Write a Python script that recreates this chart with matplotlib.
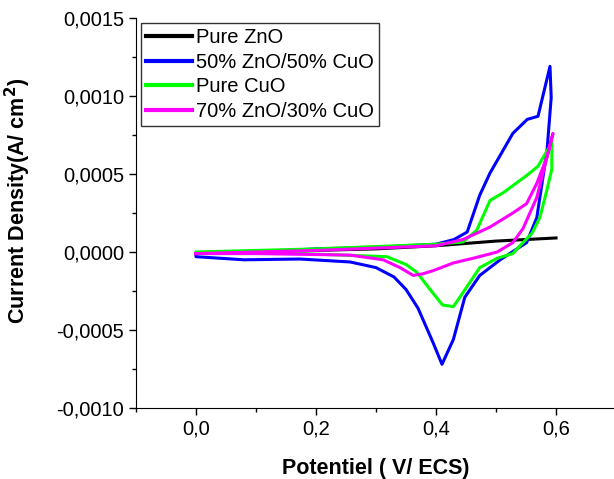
import numpy as np
import matplotlib.pyplot as plt
from matplotlib.ticker import MultipleLocator, FuncFormatter

plt.rcParams['font.family'] = ['Liberation Sans', 'DejaVu Sans']

# Voltammogrammes cycliques (aller puis retour)
E_zno = [0.0, 0.1, 0.2, 0.3, 0.4, 0.5, 0.6]
j_zno = [-0.00001, 0.0, 0.00001, 0.00002, 0.00004, 0.00007, 0.00009]

E_5050 = [0.0, 0.1, 0.2, 0.3, 0.4, 0.43, 0.452, 0.473, 0.49, 0.528, 0.552, 0.57, 0.59,
          0.592, 0.585, 0.568, 0.551, 0.507, 0.473, 0.448, 0.429, 0.41, 0.395, 0.37,
          0.35, 0.33, 0.30, 0.257, 0.173, 0.08, 0.0, 0.0]
j_5050 = [-0.00001, 0.0, 0.00002, 0.00003, 0.00005, 0.00008, 0.000128, 0.000365, 0.000506,
          0.00076, 0.00085, 0.00087, 0.00119,
          0.00099, 0.00065, 0.00022, 0.00006, -0.00005, -0.00015, -0.00029, -0.00056,
          -0.00072, -0.00058, -0.00036, -0.00024, -0.00016, -0.0001, -0.000064,
          -0.000045, -0.00005, -0.00003, -0.00001]

E_cuo = [0.0, 0.2, 0.4, 0.445, 0.468, 0.49, 0.512, 0.551, 0.57, 0.593,
         0.593, 0.585, 0.573, 0.56, 0.54, 0.528, 0.502, 0.473, 0.445, 0.429, 0.411,
         0.39, 0.368, 0.35, 0.318, 0.173, 0.0]
j_cuo = [0.0, 0.00002, 0.00005, 0.000064, 0.00014, 0.00033, 0.00038, 0.00049, 0.00055, 0.0007,
         0.00053, 0.0004, 0.00022, 0.00012, 0.00004, -0.00001, -0.00004, -0.0001, -0.00026,
         -0.00035, -0.00034, -0.00024, -0.00013, -0.00008, -0.00003, -0.00001, -0.00001]

E_7030 = [0.0, 0.2, 0.4, 0.445, 0.49, 0.528, 0.551, 0.568, 0.585, 0.595,
          0.568, 0.545, 0.528, 0.502, 0.462, 0.429, 0.395, 0.378, 0.362, 0.34,
          0.312, 0.257, 0.1, 0.0]
j_7030 = [-0.00001, 0.00001, 0.00004, 0.00008, 0.00016, 0.00025, 0.00031, 0.00044, 0.00061,
          0.00076, 0.00035, 0.00015, 0.00006, 0.0, -0.00004, -0.00007, -0.00012, -0.00014,
          -0.00015, -0.0001, -0.00005, -0.00002, -0.00001, -0.00001]

fig = plt.figure(figsize=(6.14, 4.79), dpi=100)
ax = fig.add_axes([136/614, 71/479, 480/614, 390/479])

ax.plot(E_zno, j_zno, color='black', lw=2.2, label='Pure ZnO')
ax.plot(E_5050, j_5050, color='#0000ff', lw=2.2, label='50% ZnO/50% CuO')
ax.plot(E_cuo, j_cuo, color='#00ff00', lw=2.2, label='Pure CuO')
ax.plot(E_7030, j_7030, color='#ff00ff', lw=2.2, label='70% ZnO/30% CuO')

ax.set_xlim(-0.1, 0.7)
ax.set_ylim(-0.001, 0.0015)
ax.xaxis.set_major_locator(MultipleLocator(0.2))
ax.xaxis.set_minor_locator(MultipleLocator(0.1))
ax.yaxis.set_major_locator(MultipleLocator(0.0005))
ax.yaxis.set_minor_locator(MultipleLocator(0.00025))
ax.xaxis.set_major_formatter(FuncFormatter(lambda v, p: f"{v:.1f}".replace('.', ',')))
ax.yaxis.set_major_formatter(FuncFormatter(lambda v, p: f"{v:.4f}".replace('.', ',')))
ax.tick_params(which='major', direction='out', length=5, width=1, labelsize=14.5)
ax.tick_params(which='minor', direction='out', length=3, width=1)

ax.spines['top'].set_visible(False)
ax.spines['right'].set_visible(False)

ax.set_xlabel("Potentiel ( V/ ECS)", fontsize=15.5, fontweight='bold', labelpad=14)
ax.set_ylabel(r"Current Density(A/ cm$^{\mathbf{2}}$)", fontsize=15.5, fontweight='bold')
ax.yaxis.set_label_coords(-0.215, 0.53)

leg = ax.legend(loc='upper left', fontsize=14.5, frameon=True, fancybox=False,
                handlelength=2.3, borderpad=0.25, labelspacing=0.28, handletextpad=0.2,
                borderaxespad=0.25)
leg.get_frame().set_edgecolor('black')
leg.get_frame().set_linewidth(1)
for line in leg.get_lines():
    line.set_linewidth(3)

fig.savefig("out.png", dpi=100)
